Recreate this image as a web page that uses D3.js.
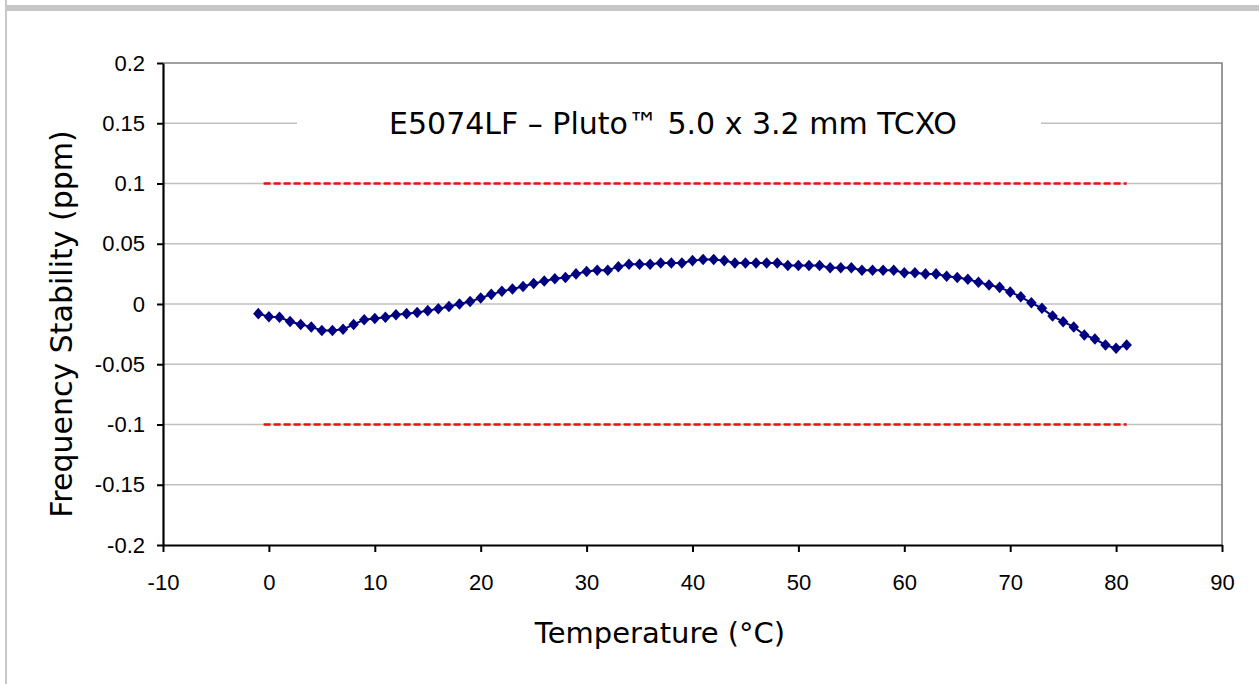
<!DOCTYPE html>
<html lang="en">
  <head>
    <meta charset="utf-8">
    <title>E5074LF Frequency Stability</title>
    <script src="https://d3js.org/d3.v7.min.js"></script>
    <style>
      body { margin: 0; background: #fff; }
      .tick text { font-family: "Liberation Sans", Arial, sans-serif; font-size: 22px; fill: #000; }
      .titles { font-family: "DejaVu Sans", sans-serif; fill: #000; }
    </style>
  </head>
  <body>
    <div id="chart"></div>
    <script>
      // temperatures (°C), one reading per degree
      const temperature = [-1, 0, 1, 2, 3, 4, 5, 6, 7, 8, 9,
        10, 11, 12, 13, 14, 15, 16, 17, 18, 19,
        20, 21, 22, 23, 24, 25, 26, 27, 28, 29,
        30, 31, 32, 33, 34, 35, 36, 37, 38, 39,
        40, 41, 42, 43, 44, 45, 46, 47, 48, 49,
        50, 51, 52, 53, 54, 55, 56, 57, 58, 59,
        60, 61, 62, 63, 64, 65, 66, 67, 68, 69,
        70, 71, 72, 73, 74, 75, 76, 77, 78, 79,
        80, 81];

      // frequency stability (ppm)
      const stability = [-0.008, -0.0105, -0.011, -0.0145, -0.017, -0.019, -0.022, -0.022, -0.021, -0.017, -0.013,
        -0.012, -0.011, -0.009, -0.008, -0.007, -0.0055, -0.004, -0.002, 0.0, 0.002,
        0.005, 0.008, 0.0105, 0.0125, 0.0145, 0.017, 0.019, 0.021, 0.022, 0.025,
        0.027, 0.028, 0.028, 0.031, 0.033, 0.033, 0.033, 0.034, 0.034, 0.034,
        0.036, 0.037, 0.037, 0.036, 0.034, 0.034, 0.034, 0.034, 0.034, 0.032,
        0.032, 0.032, 0.032, 0.030, 0.030, 0.030, 0.028, 0.028, 0.028, 0.028,
        0.026, 0.026, 0.025, 0.025, 0.023, 0.022, 0.0205, 0.018, 0.0158, 0.0138,
        0.010, 0.006, 0.001, -0.0036, -0.010, -0.0147, -0.019, -0.0257, -0.029, -0.034,
        -0.0368, -0.034];

      // spec limits (ppm) and the temperature span they are drawn over
      const limits = [0.1, -0.1];
      const limitSpan = [-0.5, 81];

      const xTicks = [-10, 0, 10, 20, 30, 40, 50, 60, 70, 80, 90];
      const yTicks = [-0.2, -0.15, -0.1, -0.05, 0, 0.05, 0.1, 0.15, 0.2];

      const chartTitle = "E5074LF \u2013 Pluto\u2122 5.0 x 3.2 mm TCXO";
      const xTitle = "Temperature (\u00B0C)";
      const yTitle = "Frequency Stability (ppm)";

      const w = 1259;
      const h = 684;
      const plot = {left: 163, right: 1222, top: 63, bottom: 545};

      const svg = d3.select("#chart")
                    .append("svg")
                    .attr("width", w)
                    .attr("height", h);

      // outer frame: grey left edge and top band
      svg.append("rect").attr("x", 5).attr("y", 0).attr("width", 2).attr("height", h).attr("fill", "#c8c8c8");
      svg.append("rect").attr("x", 7).attr("y", 5).attr("width", w - 7).attr("height", 6).attr("fill", "#c6c6c6");

      const x = d3.scaleLinear().domain([-10, 90]).range([plot.left, plot.right]);
      const y = d3.scaleLinear().domain([-0.2, 0.2]).range([plot.bottom, plot.top]);

      // gridlines
      svg.append("g")
         .selectAll("line")
         .data(yTicks.filter(d => d > -0.2 && d < 0.2))
         .join("line")
         .attr("x1", plot.left)
         .attr("x2", plot.right)
         .attr("y1", d => y(d))
         .attr("y2", d => y(d))
         .attr("stroke", "#c0c0c0")
         .attr("stroke-width", 1.6);

      // top and right border of the plot area
      svg.append("path")
         .attr("d", `M${plot.left},${plot.top}H${plot.right}V${plot.bottom}`)
         .attr("fill", "none")
         .attr("stroke", "#808080")
         .attr("stroke-width", 1.6);

      // limit lines
      svg.append("g")
         .selectAll("line")
         .data(limits)
         .join("line")
         .attr("x1", x(limitSpan[0]))
         .attr("x2", x(limitSpan[1]))
         .attr("y1", d => y(d))
         .attr("y2", d => y(d))
         .attr("stroke", "#f01010")
         .attr("stroke-width", 2.4)
         .attr("stroke-dasharray", "7,3");

      // title sits on a white box that hides the 0.15 gridline
      svg.append("rect")
         .attr("x", 297).attr("y", 100)
         .attr("width", 744).attr("height", 48)
         .attr("fill", "#fff");

      svg.append("text")
         .attr("class", "titles")
         .attr("x", 673)
         .attr("y", 134)
         .attr("text-anchor", "middle")
         .style("font-size", "30px")
         .text(chartTitle);

      // axes (plain hyphen for negatives, like the original)
      const xAxis = d3.axisBottom(x)
                      .tickValues(xTicks)
                      .tickSizeInner(7)
                      .tickSizeOuter(0)
                      .tickPadding(22)
                      .tickFormat(d => String(d));

      const yAxis = d3.axisLeft(y)
                      .tickValues(yTicks)
                      .tickSizeInner(6)
                      .tickSizeOuter(0)
                      .tickPadding(12)
                      .tickFormat(d => String(+d.toFixed(2)));

      const gx = svg.append("g")
                    .attr("transform", `translate(0,${plot.bottom})`)
                    .call(xAxis);

      const gy = svg.append("g")
                    .attr("transform", `translate(${plot.left},0)`)
                    .call(yAxis);

      [gx, gy].forEach(g => {
        g.select(".domain").attr("stroke", "#000").attr("stroke-width", 2.2);
        g.selectAll(".tick line").attr("stroke", "#000").attr("stroke-width", 2);
      });

      // data: connecting line and diamond markers
      const pts = temperature.map((t, i) => [t, stability[i]]);

      svg.append("path")
         .datum(pts)
         .attr("fill", "none")
         .attr("stroke", "#000080")
         .attr("stroke-width", 2)
         .attr("d", d3.line().x(d => x(d[0])).y(d => y(d[1])));

      const diamond = {
        draw(ctx, size) {
          const a = Math.sqrt(size) / 2;
          ctx.moveTo(0, -a * 1.1);
          ctx.lineTo(a, 0);
          ctx.lineTo(0, a * 1.1);
          ctx.lineTo(-a, 0);
          ctx.closePath();
        }
      };

      svg.append("g")
         .selectAll("path")
         .data(pts)
         .join("path")
         .attr("transform", d => `translate(${x(d[0])},${y(d[1])})`)
         .attr("d", d3.symbol().type(diamond).size(110))
         .attr("fill", "#000080");

      // axis titles
      svg.append("text")
         .attr("class", "titles")
         .attr("x", 660)
         .attr("y", 643)
         .attr("text-anchor", "middle")
         .style("font-size", "29px")
         .text(xTitle);

      svg.append("text")
         .attr("class", "titles")
         .attr("transform", "translate(72,324) rotate(-90)")
         .attr("text-anchor", "middle")
         .style("font-size", "30px")
         .text(yTitle);
    </script>
  </body>
</html>
